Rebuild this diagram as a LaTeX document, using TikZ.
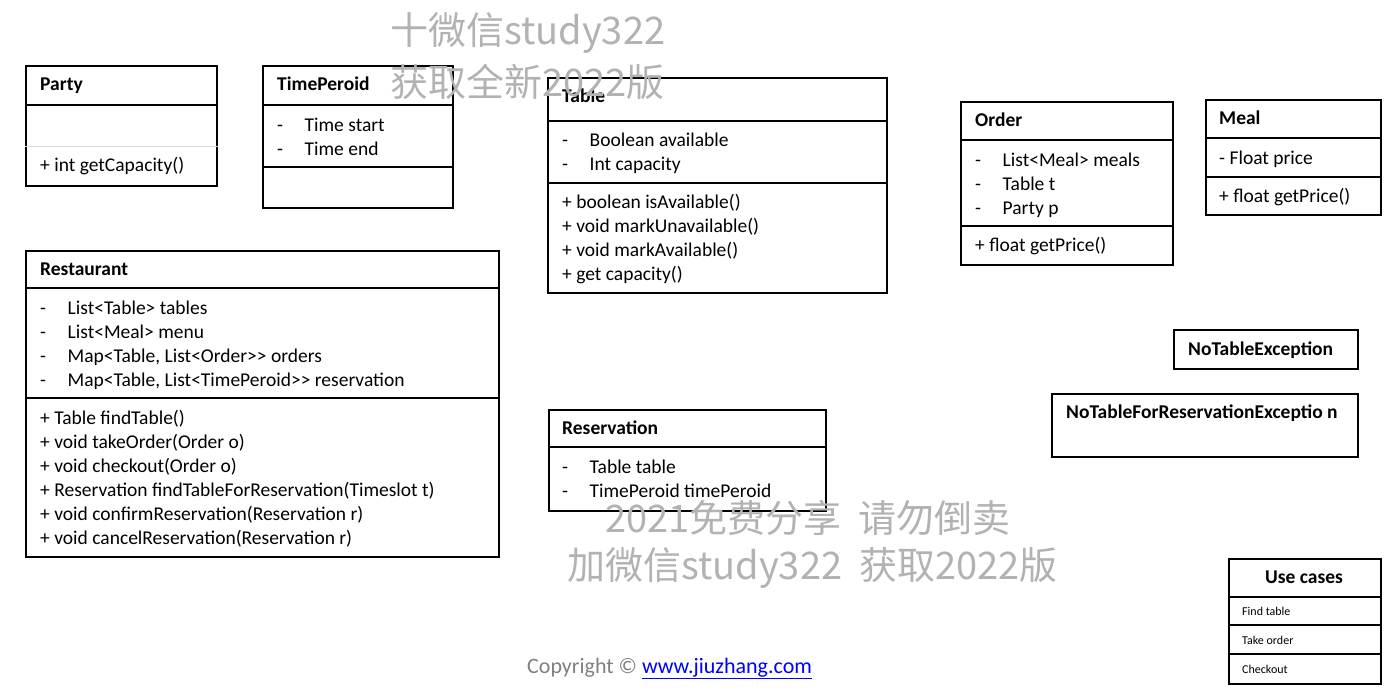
\documentclass[tikz,border=0pt]{standalone}
\usepackage{fontspec}
\setmainfont{Carlito}
\newfontfamily\cjkfont{Noto Sans CJK SC}
\newcommand{\attrline}[1]{\makebox[27.5pt][l]{-}#1}

\begin{document}
\begin{tikzpicture}[x=1pt, y=-1pt, inner sep=0pt]
		\tikzstyle{every node}=[align=left]
		\tikzstyle{classbox}=[draw, line width=1.5pt, anchor=north west]
		\tikzstyle{rule}=[line width=1.5pt]
		\tikzstyle{cname}=[anchor=base west, font=\fontsize{19.5}{24}\selectfont\bfseries]
		\tikzstyle{member}=[anchor=base west, font=\fontsize{19.5}{24}\selectfont]
		\tikzstyle{usecase}=[anchor=base west, font=\fontsize{12}{14}\selectfont]
		\tikzstyle{wmark}=[anchor=west, text=black!30, font=\fontsize{38}{46}\selectfont\cjkfont]
		\useasboundingbox (0,0) rectangle (1387,691);

		% Party
		\node[classbox, minimum width=191pt, minimum height=120pt] (party) at (25,65) {};
		\draw[rule] (party.west |- 0,105) -- (party.east |- 0,105);
		\draw[black!15, line width=0.8pt] (party.west |- 0,146) -- (party.east |- 0,146);
		\node[cname] (partyname) at (40,90) {Party};
		\node[member] (partym1) at (40,171) {+ int getCapacity()};

		% TimePeroid
		\node[classbox, minimum width=190pt, minimum height=142pt] (timeperoid) at (262,65) {};
		\draw[rule] (timeperoid.west |- 0,105) -- (timeperoid.east |- 0,105);
		\draw[rule] (timeperoid.west |- 0,167) -- (timeperoid.east |- 0,167);
		\node[cname] (timeperoidname) at (277,90) {TimePeroid};
		\node[member] (timeperoida1) at (277,131) {\attrline{Time start}};
		\node[member] (timeperoida2) at (277,155) {\attrline{Time end}};

		% Table
		\node[classbox, minimum width=339pt, minimum height=215pt] (table) at (547,77) {};
		\draw[rule] (table.west |- 0,121) -- (table.east |- 0,121);
		\draw[rule] (table.west |- 0,183) -- (table.east |- 0,183);
		\node[cname] (tablename) at (562,102) {Table};
		\node[member] (tablea1) at (562,146) {\attrline{Boolean available}};
		\node[member] (tablea2) at (562,170) {\attrline{Int capacity}};
		\node[member] (tablem1) at (562,208) {+ boolean isAvailable()};
		\node[member] (tablem2) at (562,232) {+ void markUnavailable()};
		\node[member] (tablem3) at (562,256) {+ void markAvailable()};
		\node[member] (tablem4) at (562,280) {+ get capacity()};

		% Order
		\node[classbox, minimum width=212pt, minimum height=163pt] (order) at (960,101) {};
		\draw[rule] (order.west |- 0,140) -- (order.east |- 0,140);
		\draw[rule] (order.west |- 0,226) -- (order.east |- 0,226);
		\node[cname] (ordername) at (975,126) {Order};
		\node[member] (ordera1) at (975,166) {\attrline{List<Meal> meals}};
		\node[member] (ordera2) at (975,190) {\attrline{Table t}};
		\node[member] (ordera3) at (975,214) {\attrline{Party p}};
		\node[member] (orderm1) at (975,251) {+ float getPrice()};

		% Meal
		\node[classbox, minimum width=175pt, minimum height=115pt] (meal) at (1205,99) {};
		\draw[rule] (meal.west |- 0,138) -- (meal.east |- 0,138);
		\draw[rule] (meal.west |- 0,177) -- (meal.east |- 0,177);
		\node[cname] (mealname) at (1219,124) {Meal};
		\node[member] (meala1) at (1219,164) {- Float price};
		\node[member] (mealm1) at (1219,202) {+ float getPrice()};

		% Restaurant
		\node[classbox, minimum width=473pt, minimum height=306pt] (restaurant) at (25,250) {};
		\draw[rule] (restaurant.west |- 0,288) -- (restaurant.east |- 0,288);
		\draw[rule] (restaurant.west |- 0,398) -- (restaurant.east |- 0,398);
		\node[cname] (restaurantname) at (40,275) {Restaurant};
		\node[member] (restauranta1) at (40,314) {\attrline{List<Table> tables}};
		\node[member] (restauranta2) at (40,338) {\attrline{List<Meal> menu}};
		\node[member] (restauranta3) at (40,362) {\attrline{Map<Table, List<Order>\kern0pt> orders}};
		\node[member] (restauranta4) at (40,386) {\attrline{Map<Table, List<TimePeroid>\kern0pt> reservation}};
		\node[member] (restaurantm1) at (40,424) {+ Table findTable()};
		\node[member] (restaurantm2) at (40,448) {+ void takeOrder(Order o)};
		\node[member] (restaurantm3) at (40,472) {+ void checkout(Order o)};
		\node[member] (restaurantm4) at (40,496) {+ Reservation findTableForReservation(Timeslot t)};
		\node[member] (restaurantm5) at (40,520) {+ void confirmReservation(Reservation r)};
		\node[member] (restaurantm6) at (40,544) {+ void cancelReservation(Reservation r)};

		% Reservation
		\node[classbox, minimum width=277pt, minimum height=101pt] (reservation) at (548,409) {};
		\draw[rule] (reservation.west |- 0,447) -- (reservation.east |- 0,447);
		\node[cname] (reservationname) at (562,434) {Reservation};
		\node[member] (reservationa1) at (562,473) {\attrline{Table table}};
		\node[member] (reservationa2) at (562,497) {\attrline{TimePeroid timePeroid}};

		% exceptions
		\node[classbox, minimum width=184pt, minimum height=39pt] (notable) at (1173,329) {};
		\node[cname] (notablename) at (1188,355) {NoTableException};
		\node[classbox, minimum width=306pt, minimum height=63pt] (notableres) at (1051,393) {};
		\node[cname] (notableresname) at (1066,418) {NoTableForReservationExceptio n};

		% Use cases
		\node[classbox, minimum width=152pt, minimum height=125pt] (usecases) at (1228,558) {};
		\draw[rule] (usecases.west |- 0,597) -- (usecases.east |- 0,597);
		\draw[rule] (usecases.west |- 0,625) -- (usecases.east |- 0,625);
		\draw[rule] (usecases.west |- 0,654) -- (usecases.east |- 0,654);
		\node[cname, anchor=base] (usecasesname) at (1304,583) {Use cases};
		\node[usecase] (usecase1) at (1242,615) {Find table};
		\node[usecase] (usecase2) at (1242,644) {Take order};
		\node[usecase] (usecase3) at (1242,673) {Checkout};

		\node[anchor=base west, font=\fontsize{22}{26}\selectfont] (copyright) at (527,673)
			{\textcolor{black!50}{Copyright ©} \textcolor{blue}{\underline{www.jiuzhang.com}}};

		\node[wmark] (wmark1) at (390,33) {十微信study322};
		\node[wmark] (wmark2) at (390,82) {获取全新2022版};
		\node[wmark] (wmark3) at (605,518) {2021免费分享\ \ 请勿倒卖};
		\node[wmark] (wmark4) at (567,568) {加微信study322\ \ 获取2022版};
		\end{tikzpicture}
\end{document}
